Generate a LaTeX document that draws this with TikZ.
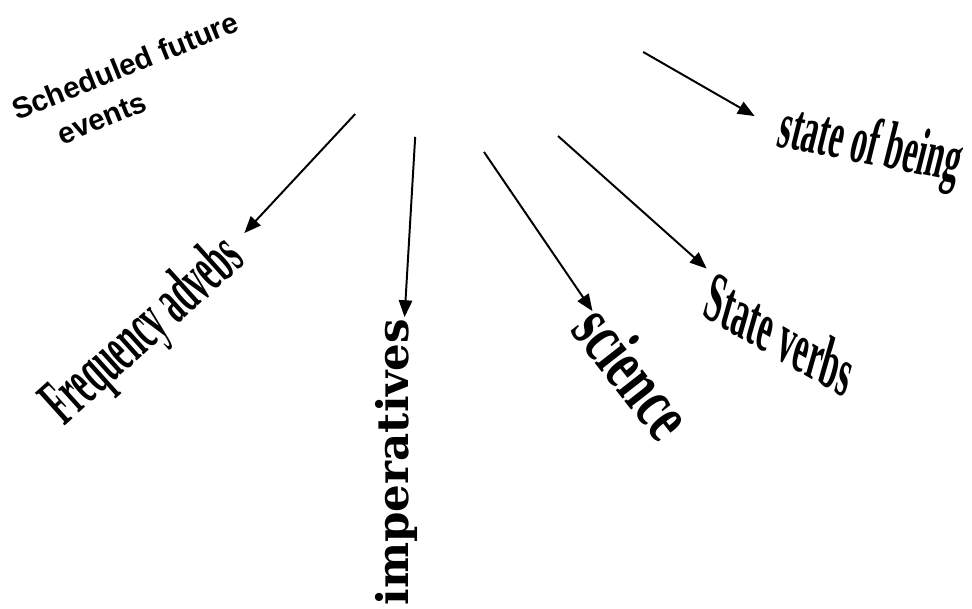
\documentclass[tikz,border=0pt]{standalone}
\usepackage{fontspec}
\setmainfont{Liberation Serif}
\newfontfamily\headfont{Liberation Sans}
\newfontfamily\slabfont{DejaVu Serif}
\usetikzlibrary{arrows.meta,calc}

\begin{document}
\begin{tikzpicture}[
  >={Triangle[length=12pt,width=9.5pt]},
  usearrow/.style={->, draw=black, line width=1.4pt},
  artword/.style={inner sep=1pt, font=\bfseries\fontsize{#1}{#1}\selectfont}
]
  \useasboundingbox (0,0) rectangle (24.3,15.2);
  \node[inner sep=1pt, align=left, rotate=22, font=\headfont\bfseries\fontsize{21pt}{28pt}\selectfont] (lsched) at (3.31,13.1) {Scheduled future\\\hspace*{1.1em}events};
  \node[artword=48pt, rotate=42, xscale=0.47] (lfreq) at (3.62,6.9) {Frequency advebs};
  \node[inner sep=1pt, rotate=90, font=\slabfont\bfseries\fontsize{31pt}{31pt}\selectfont] (limper) at (9.9,3.65) {imperatives};
  \node[artword=52pt, rotate=-52, xscale=0.66] (lsci) at (15.85,5.9) {science};
  \node[artword=50pt, rotate=-16, yslant=-0.25, xscale=0.48] (lstate) at (19.5,6.85) {State verbs};
  \node[artword=48pt, rotate=-14, yslant=0.05, xscale=0.48] (lbeing) at (21.75,11.5) {state of being};
  \coordinate (cfreq) at (8.88,12.35);
  \coordinate (cimper) at (10.38,11.78);
  \coordinate (csci) at (12.10,11.40);
  \coordinate (cstate) at (13.95,11.80);
  \coordinate (cbeing) at (16.08,13.90);
  \draw[usearrow, shorten >=56pt] (cfreq) -- ($(lfreq.center)!0.5!(lfreq.east)$);
  \draw[usearrow] (cimper) -- (limper);
  \draw[usearrow] (csci) -- (lsci);
  \draw[usearrow, shorten >=6pt] (cstate) -- (lstate);
  \draw[usearrow, shorten >=20pt] (cbeing) -- (lbeing.west);
\end{tikzpicture}
\end{document}
